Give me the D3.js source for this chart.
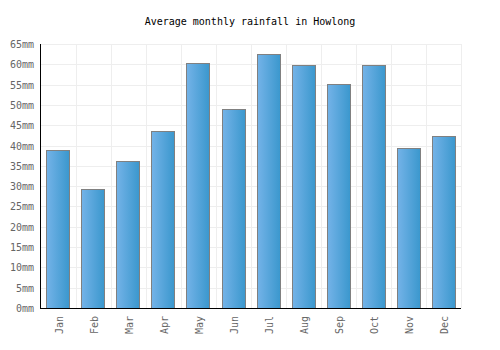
<!DOCTYPE html>
<html>
<head>
<meta charset="utf-8">
<script src="https://cdn.jsdelivr.net/npm/d3@7"></script>
<style>
  body { margin: 0; background: #fff; }
  text { font-family: "DejaVu Sans Mono", monospace; }
</style>
</head>
<body>
<div class="chart"></div>
<script>
const months = ["Jan", "Feb", "Mar", "Apr", "May", "Jun", "Jul", "Aug", "Sep", "Oct", "Nov", "Dec"];
const rainfall = [38.9, 29.3, 36.2, 43.6, 60.3, 49.0, 62.6, 59.8, 55.1, 59.8, 39.4, 42.3];
const yTicks = [0, 5, 10, 15, 20, 25, 30, 35, 40, 45, 50, 55, 60, 65];

let margin = { top: 44, right: 39, bottom: 42, left: 41 },
  width = 500 - margin.left - margin.right,
  height = 350 - margin.top - margin.bottom;

let svg = d3
  .select(".chart")
  .append("svg")
  .attr("width", 500)
  .attr("height", 350);

let defs = svg.append("defs");
let grad = defs
  .append("linearGradient")
  .attr("id", "barGrad")
  .attr("x1", "0%")
  .attr("x2", "100%")
  .attr("y1", "0%")
  .attr("y2", "0%");
grad.append("stop").attr("offset", "0%").attr("stop-color", "#74b3e8");
grad.append("stop").attr("offset", "100%").attr("stop-color", "#3a97cd");

svg
  .append("text")
  .attr("x", 250)
  .attr("y", 25)
  .attr("text-anchor", "middle")
  .attr("font-size", "10px")
  .attr("fill", "#000")
  .text("Average monthly rainfall in Howlong");

let g = svg
  .append("g")
  .attr("transform", "translate(" + margin.left + "," + margin.top + ")");

let x = d3.scaleBand().domain(months).range([0, width]).paddingInner(0.32).paddingOuter(0.14);
let xGrid = d3.scaleBand().domain(months).range([0, width]);
let y = d3.scaleLinear().domain([0, 65]).range([height, 0]);

// grid
g.selectAll(".hgrid")
  .data(yTicks)
  .enter()
  .append("line")
  .attr("class", "hgrid")
  .attr("x1", 0)
  .attr("x2", width)
  .attr("y1", (d) => Math.round(y(d)) + 0.5)
  .attr("y2", (d) => Math.round(y(d)) + 0.5)
  .attr("stroke", "#eeeeee");

g.selectAll(".vgrid")
  .data(months.slice(1).concat(["end"]))
  .enter()
  .append("line")
  .attr("class", "vgrid")
  .attr("x1", (d, i) => Math.round(xGrid.step() * (i + 1)) + 0.5)
  .attr("x2", (d, i) => Math.round(xGrid.step() * (i + 1)) + 0.5)
  .attr("y1", 0)
  .attr("y2", height)
  .attr("stroke", "#eeeeee");

// bars
g.selectAll(".bar")
  .data(rainfall)
  .enter()
  .append("rect")
  .attr("class", "bar")
  .attr("x", (d, i) => Math.round(x(months[i])) + 0.5)
  .attr("y", (d) => Math.round(y(d)) + 0.5)
  .attr("width", Math.floor(x.bandwidth()))
  .attr("height", (d) => height - Math.round(y(d)))
  .attr("fill", "url(#barGrad)")
  .attr("stroke", "#808080")
  .attr("stroke-width", 1);

// y axis labels
g.selectAll(".ylab")
  .data(yTicks)
  .enter()
  .append("text")
  .attr("class", "ylab")
  .attr("x", -7)
  .attr("y", (d) => y(d) + 4)
  .attr("text-anchor", "end")
  .attr("font-size", "10px")
  .attr("fill", "#666")
  .text((d) => d + "mm");

// x axis labels
g.selectAll(".xlab")
  .data(months)
  .enter()
  .append("text")
  .attr("class", "xlab")
  .attr("transform", (d) => "translate(" + (xGrid(d) + xGrid.bandwidth() / 2 + 4) + "," + (height + 8) + ") rotate(-90)")
  .attr("text-anchor", "end")
  .attr("font-size", "10px")
  .attr("fill", "#666")
  .text((d) => d);

// axis lines
g.append("line")
  .attr("x1", -0.5)
  .attr("x2", -0.5)
  .attr("y1", 0)
  .attr("y2", height + 1)
  .attr("stroke", "#000");
g.append("line")
  .attr("x1", -1)
  .attr("x2", width)
  .attr("y1", height + 0.5)
  .attr("y2", height + 0.5)
  .attr("stroke", "#000");
</script>
</body>
</html>
